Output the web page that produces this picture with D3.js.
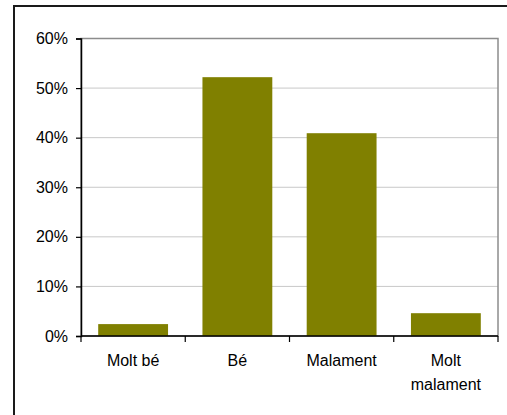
<!DOCTYPE html>
<html><head><meta charset="utf-8">
<script src="https://cdn.jsdelivr.net/npm/d3@7/dist/d3.min.js"></script>
<style>html,body{margin:0;padding:0;background:#fff;}svg{display:block;}</style>
</head><body>
<script>
const categories = [["Molt bé"], ["Bé"], ["Malament"], ["Molt", "malament"]];
const values = [0.024, 0.522, 0.409, 0.046];
const yTicks = [0, 0.1, 0.2, 0.3, 0.4, 0.5, 0.6];

const W = 507, H = 415;
const m = {left: 81, top: 38.5, right: 498, bottom: 336};
const svg = d3.select("body").append("svg").attr("width", W).attr("height", H);

// outer frame (clipped at right/bottom)
svg.append("rect").attr("x", 14).attr("y", 6).attr("width", 520).attr("height", 440)
  .attr("fill", "none").attr("stroke", "#1a1a1a").attr("stroke-width", 2);

const keys = categories.map(c => c.join(" "));
const x = d3.scaleBand().domain(keys).range([m.left, m.right]).paddingInner(0.33).paddingOuter(0.165);
const xb = d3.scaleBand().domain(keys).range([m.left, m.right]);
const y = d3.scaleLinear().domain([0, 0.6]).range([m.bottom, m.top]);

// gridlines
svg.append("g").selectAll("line").data(yTicks.slice(1)).join("line")
  .attr("x1", m.left).attr("x2", m.right).attr("y1", d => y(d)).attr("y2", d => y(d))
  .attr("stroke", "#c8c8c8").attr("stroke-width", 1);

// plot border
svg.append("rect").attr("x", m.left).attr("y", m.top).attr("width", m.right - m.left).attr("height", m.bottom - m.top)
  .attr("fill", "none").attr("stroke", "#8c8c8c").attr("stroke-width", 1.5);

// bars
svg.append("g").selectAll("rect").data(values).join("rect")
  .attr("x", (d, i) => x(keys[i])).attr("width", x.bandwidth())
  .attr("y", d => y(d)).attr("height", d => y(0) - y(d))
  .attr("fill", "#808000");

// y axis
const yAxis = d3.axisLeft(y).tickValues(yTicks).tickFormat(d3.format(".0%")).tickSize(5).tickPadding(8);
const gy = svg.append("g").attr("transform", `translate(${m.left},0)`).call(yAxis);
gy.select(".domain").attr("stroke", "#000").attr("stroke-width", 1.5);
gy.selectAll(".tick line").attr("stroke", "#000").attr("stroke-width", 1.2);
gy.selectAll("text").attr("font-family", "Liberation Sans, Arial, sans-serif").attr("font-size", 16).attr("fill", "#000");

// x axis
const gx = svg.append("g").attr("transform", `translate(0,${m.bottom})`);
gx.append("line").attr("x1", m.left).attr("x2", m.right).attr("stroke", "#000").attr("stroke-width", 1.5);
const bounds = keys.map(k => xb(k)).concat([m.right]);
gx.selectAll("line.t").data(bounds).join("line").attr("class", "t")
  .attr("x1", d => d).attr("x2", d => d).attr("y1", 0).attr("y2", 6).attr("stroke", "#000").attr("stroke-width", 1.2);
const lab = gx.selectAll("text").data(categories).join("text")
  .attr("x", (d, i) => xb(keys[i]) + xb.bandwidth() / 2)
  .attr("y", 30)
  .attr("text-anchor", "middle")
  .attr("font-family", "Liberation Sans, Arial, sans-serif").attr("font-size", 16).attr("fill", "#000");
lab.selectAll("tspan").data(d => d).join("tspan")
  .attr("x", function() { return this.parentNode.getAttribute("x"); })
  .attr("dy", (d, i) => i === 0 ? 0 : 24)
  .text(d => d);
</script>
</body></html>
